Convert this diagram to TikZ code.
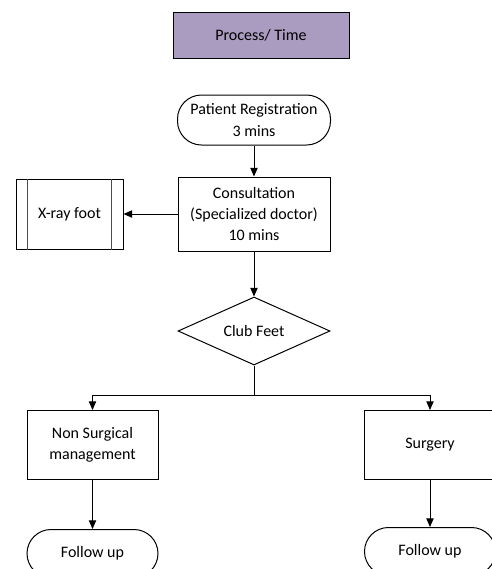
\documentclass[tikz,border=0pt]{standalone}
\usepackage{fontspec}
\setmainfont{Carlito}
\usetikzlibrary{positioning,shapes.geometric,arrows.meta}
\definecolor{headfill}{RGB}{170,155,192}

\begin{document}
\begin{tikzpicture}[x=0.75pt, y=-0.75pt, font=\fontsize{12}{16}\selectfont]
	\tikzstyle{box} = [rectangle, draw, line width=0.75pt, align=center, minimum width=98.25pt, minimum height=51.75pt, inner sep=2pt]
	\tikzstyle{term} = [rectangle, draw, line width=0.75pt, rounded corners=18pt, align=center, minimum width=98.25pt, minimum height=36pt]
	\tikzstyle{flow} = [draw, line width=0.75pt, -{Triangle[length=6.5pt, width=5.5pt]}]

	\clip (0,0) rectangle (492,569);

	% Define nodes
	\node[rectangle, draw, line width=0.75pt, fill=headfill, minimum width=132pt, minimum height=34.5pt] (time) at (261,35) {Process/ Time};
	\node[term, minimum width=114.75pt, minimum height=37.5pt] (reg) at (254,120) {Patient Registration\\3 mins};
	\node[box, minimum width=114pt, minimum height=55.5pt] (cons) [below=23.25pt of reg] {Consultation\\(Specialized doctor)\\10 mins};
	\node[box, minimum width=80.25pt, minimum height=52.5pt] (xray) [left=40.5pt of cons] {X-ray foot};
	\node[diamond, draw, line width=0.75pt, aspect=2.2, inner sep=0pt, minimum width=114pt, minimum height=51pt] (club) [below=33.75pt of cons] {Club Feet};
	\node[box] (nons) at (92.5,445) {Non Surgical\\management};
	\node[box] (surg) at (430,445) {Surgery};
	\node[term] (fup1) [below=36.75pt of nons] {Follow up};
	\node[term] (fup2) [below=35.25pt of surg] {Follow up};
	\coordinate (split) at ([yshift=-22.5pt]club.south);

	% side bars of the x-ray box
	\draw[gray!60!black, line width=1pt] ([xshift=9pt]xray.north west) -- ([xshift=9pt]xray.south west);
	\draw[gray!60!black, line width=1pt] ([xshift=-9pt]xray.north east) -- ([xshift=-9pt]xray.south east);

	% Draw edges
	\draw[flow] (reg) -- (cons);
	\draw[flow] (cons) -- (xray);
	\draw[flow] (cons) -- (club);
	\draw[flow] (club.south) -- (split) -| (nons.north);
	\draw[flow] (split) -| (surg.north);
	\draw[flow] (nons) -- (fup1);
	\draw[flow] (surg) -- (fup2);

\end{tikzpicture}
\end{document}
